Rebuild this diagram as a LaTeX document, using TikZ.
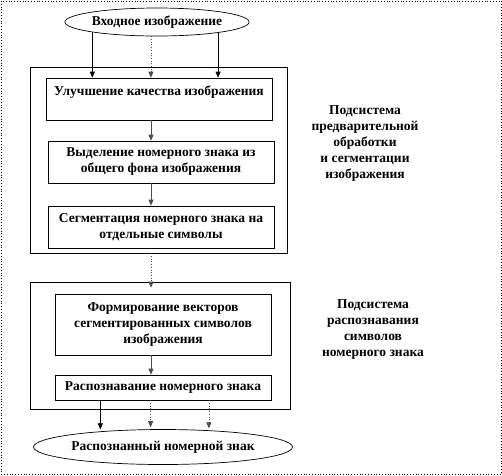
\documentclass[tikz,border=0pt]{standalone}
\usepackage{fontspec}
\setmainfont{Liberation Serif}[BoldFont={Liberation Serif Bold}]
\usetikzlibrary{shapes.geometric,arrows.meta}
\begin{document}
\begin{tikzpicture}[x=1pt,y=-1pt,
  txt/.style={font=\bfseries\fontsize{13.5}{16}\selectfont, align=center},
  stepbox/.style={draw=black, line width=0.7pt, rectangle, inner sep=0pt, txt},
  oval/.style={draw=black, line width=0.7pt, ellipse, inner sep=0pt, txt},
  frame/.style={draw=black, line width=0.7pt},
  arr/.style={line width=0.7pt, -{Triangle[width=5pt,length=6pt]}},
  darr/.style={arr, dotted, draw=black!70}
]
\useasboundingbox (0,0) rectangle (502,475);
\draw[dotted, line width=0.8pt] (1,1) rectangle (501,474);

% subsystem frames
\node[frame, minimum width=257pt, minimum height=186pt, inner sep=0pt] (f1) at (158.5,160) {};
\node[frame, minimum width=260pt, minimum height=127pt, inner sep=0pt] (f2) at (160,345.5) {};

% nodes
\node[oval, minimum width=172pt, minimum height=28pt] (in) at (157,22) {Входное изображение};
\node[stepbox, minimum width=226pt, minimum height=42pt] (b1) at (159,99) {Улучшение качества изображения\\\mbox{}};
\node[stepbox, minimum width=226pt, minimum height=42pt] (b2) at (161,162) {Выделение номерного знака из\\общего фона изображения};
\node[stepbox, minimum width=226pt, minimum height=42pt] (b3) at (161,227) {Сегментация номерного знака на\\отдельные символы};
\node[stepbox, minimum width=216pt, minimum height=61pt] (b4) at (163,324.5) {Формирование векторов\\сегментированных символов\\изображения};
\node[stepbox, minimum width=216pt, minimum height=25pt] (b5) at (163,387.5) {Распознавание номерного знака};
\node[oval, minimum width=226pt, minimum height=35pt] (out) at (163,447) {Распознанный номерной знак};

\node[txt] (l1) at (365,143.5) {Подсистема\\предварительной\\обработки\\и сегментации\\изображения};
\node[txt] (l2) at (373,330) {Подсистема\\распознавания\\символов\\номерного знака};

\coordinate (cx) at (151,0);

% arrows from input
\draw[arr] (in.189) -- (in.189 |- b1.north);
\draw[darr] (in.247) -- (in.247 |- b1.north);
\draw[arr] (in.350) -- (in.350 |- b1.north);

% internal arrows
\draw[arr, draw=black!70] (b1.south -| cx) -- (b2.north -| cx);
\draw[arr, draw=black!70] (b2.south -| cx) -- (b3.north -| cx);
\draw[darr, shorten >=6pt] (f1.south -| cx) -- (b4.north -| cx);
\draw[arr, draw=black!70] (b4.south -| cx) -- (b5.north -| cx);

% arrows to output
\draw[arr, shorten >=2pt] (b5.south -| out.166) -- (out.166);
\draw[darr, shorten >=2pt] (b5.south -| out.125) -- (out.125);
\draw[darr, shorten >=2pt] (b5.south -| out.20) -- (out.20);
\end{tikzpicture}
\end{document}
